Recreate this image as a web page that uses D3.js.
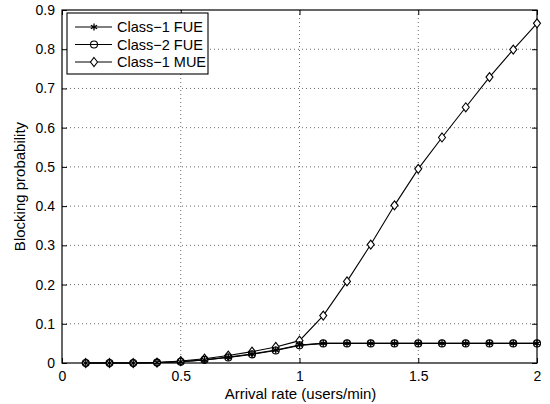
<!DOCTYPE html>
<html>
<head>
<meta charset="utf-8">
<script src="https://cdn.jsdelivr.net/npm/d3@7"></script>
<style>
  body { margin: 0; background: #fff; }
  text { font-family: "Liberation Sans", Arial, sans-serif; fill: #000; }
</style>
</head>
<body>
<div id="chart"></div>
<script>
var rates = [0.1, 0.2, 0.3, 0.4, 0.5, 0.6, 0.7, 0.8, 0.9, 1.0,
             1.1, 1.2, 1.3, 1.4, 1.5, 1.6, 1.7, 1.8, 1.9, 2.0];
var class1Fue = [0, 0, 0, 0.001, 0.003, 0.008, 0.015, 0.023, 0.033, 0.046,
                 0.05, 0.05, 0.05, 0.05, 0.05, 0.05, 0.05, 0.05, 0.05, 0.05];
var class2Fue = [0, 0, 0, 0.001, 0.003, 0.008, 0.014, 0.022, 0.032, 0.045,
                 0.05, 0.05, 0.05, 0.05, 0.05, 0.05, 0.05, 0.05, 0.05, 0.05];
var class1Mue = [0, 0, 0, 0.001, 0.005, 0.011, 0.019, 0.029, 0.041, 0.057,
                 0.121, 0.208, 0.302, 0.402, 0.495, 0.575, 0.652, 0.729, 0.799, 0.866];
var seriesNames = ["Class\u22121 FUE", "Class\u22122 FUE", "Class\u22121 MUE"];
var xTicks = [0, 0.5, 1, 1.5, 2];
var yTicks = [0, 0.1, 0.2, 0.3, 0.4, 0.5, 0.6, 0.7, 0.8, 0.9];

var margin = { top: 10, right: 13, bottom: 41, left: 62 };
var width = 550 - margin.left - margin.right;
var height = 404 - margin.top - margin.bottom;

var svg = d3.select("#chart").append("svg")
    .attr("width", 550)
    .attr("height", 404)
    .append("g")
    .attr("transform", "translate(" + margin.left + "," + margin.top + ")");

var x = d3.scaleLinear().domain([0, 2]).range([0, width]);
var y = d3.scaleLinear().domain([0, 0.9]).range([height, 0]);

// grid
svg.selectAll(".gx").data(xTicks.slice(1, -1)).enter().append("line")
    .attr("x1", function(d){ return x(d); }).attr("x2", function(d){ return x(d); })
    .attr("y1", 0).attr("y2", height)
    .attr("stroke", "#444").attr("stroke-width", 0.8).attr("stroke-dasharray", "1,3");
svg.selectAll(".gy").data(yTicks.slice(1, -1)).enter().append("line")
    .attr("y1", function(d){ return y(d); }).attr("y2", function(d){ return y(d); })
    .attr("x1", 0).attr("x2", width)
    .attr("stroke", "#444").attr("stroke-width", 0.8).attr("stroke-dasharray", "1,3");

// axes (ticks inward, all four sides)
function styleAxis(g) {
    g.select(".domain").remove();
    g.selectAll(".tick line").attr("stroke", "#000");
    g.selectAll("text").style("font-family", "'Liberation Sans', Arial, sans-serif")
        .style("font-size", "14px").attr("fill", "#000");
}
svg.append("g").attr("transform", "translate(0," + height + ")")
    .call(d3.axisBottom(x).tickValues(xTicks).tickSizeInner(-5).tickSizeOuter(0).tickPadding(8)
        .tickFormat(d3.format("")))
    .call(styleAxis);
svg.append("g")
    .call(d3.axisLeft(y).tickValues(yTicks).tickSizeInner(-5).tickSizeOuter(0).tickPadding(7)
        .tickFormat(function(d){ return d === 0 ? "0" : d3.format(".1f")(d); }))
    .call(styleAxis);
svg.append("g")
    .call(d3.axisTop(x).tickValues(xTicks).tickSizeInner(-5).tickSizeOuter(0).tickFormat(""))
    .call(styleAxis);
svg.append("g").attr("transform", "translate(" + width + ",0)")
    .call(d3.axisRight(y).tickValues(yTicks).tickSizeInner(-5).tickSizeOuter(0).tickFormat(""))
    .call(styleAxis);

svg.append("rect").attr("width", width).attr("height", height)
    .attr("fill", "none").attr("stroke", "#000").attr("stroke-width", 1.2);

// series
var line = d3.line()
    .x(function(d){ return x(d[0]); })
    .y(function(d){ return y(d[1]); });

var data = [class1Fue, class2Fue, class1Mue].map(function(vals){
    return rates.map(function(r, i){ return [r, vals[i]]; });
});

function drawMarker(g, k) {
    if (k === 0) {
        g.append("path").attr("d", d3.symbol().type(d3.symbolAsterisk).size(36))
            .attr("fill", "none").attr("stroke", "#000").attr("stroke-width", 1.3);
    } else if (k === 1) {
        g.append("circle").attr("r", 3.5)
            .attr("fill", "none").attr("stroke", "#000").attr("stroke-width", 1.1);
    } else {
        g.append("path").attr("d", "M0,-4.5L3.5,0L0,4.5L-3.5,0Z")
            .attr("fill", "#fff").attr("stroke", "#000").attr("stroke-width", 1.1);
    }
}

[2, 1, 0].forEach(function(k){
    svg.append("path").datum(data[k])
        .attr("d", line).attr("fill", "none")
        .attr("stroke", "#000").attr("stroke-width", 1.1);
});
[2, 1, 0].forEach(function(k){
    data[k].forEach(function(p){
        var g = svg.append("g")
            .attr("transform", "translate(" + x(p[0]) + "," + y(p[1]) + ")");
        drawMarker(g, k);
    });
});

// legend
var lg = svg.append("g").attr("transform", "translate(5,3)");
lg.append("rect").attr("width", 141).attr("height", 61)
    .attr("fill", "#fff").attr("stroke", "#000").attr("stroke-width", 1.1);
seriesNames.forEach(function(name, k){
    var yy = 14 + k * 17.5;
    lg.append("line").attr("x1", 8).attr("x2", 45).attr("y1", yy).attr("y2", yy)
        .attr("stroke", "#000").attr("stroke-width", 1.1);
    var g = lg.append("g").attr("transform", "translate(27," + yy + ")");
    drawMarker(g, k);
    lg.append("text").attr("x", 50).attr("y", yy).attr("dy", "0.36em")
        .style("font-size", "14.5px").text(name);
});

// axis labels
svg.append("text").attr("x", width / 2 + 1).attr("y", height + 36)
    .attr("text-anchor", "middle").style("font-size", "15px")
    .text("Arrival rate (users/min)");
svg.append("text")
    .attr("transform", "translate(-37," + (height / 2) + ") rotate(-90)")
    .attr("text-anchor", "middle").style("font-size", "15px")
    .text("Blocking probability");
</script>
</body>
</html>
